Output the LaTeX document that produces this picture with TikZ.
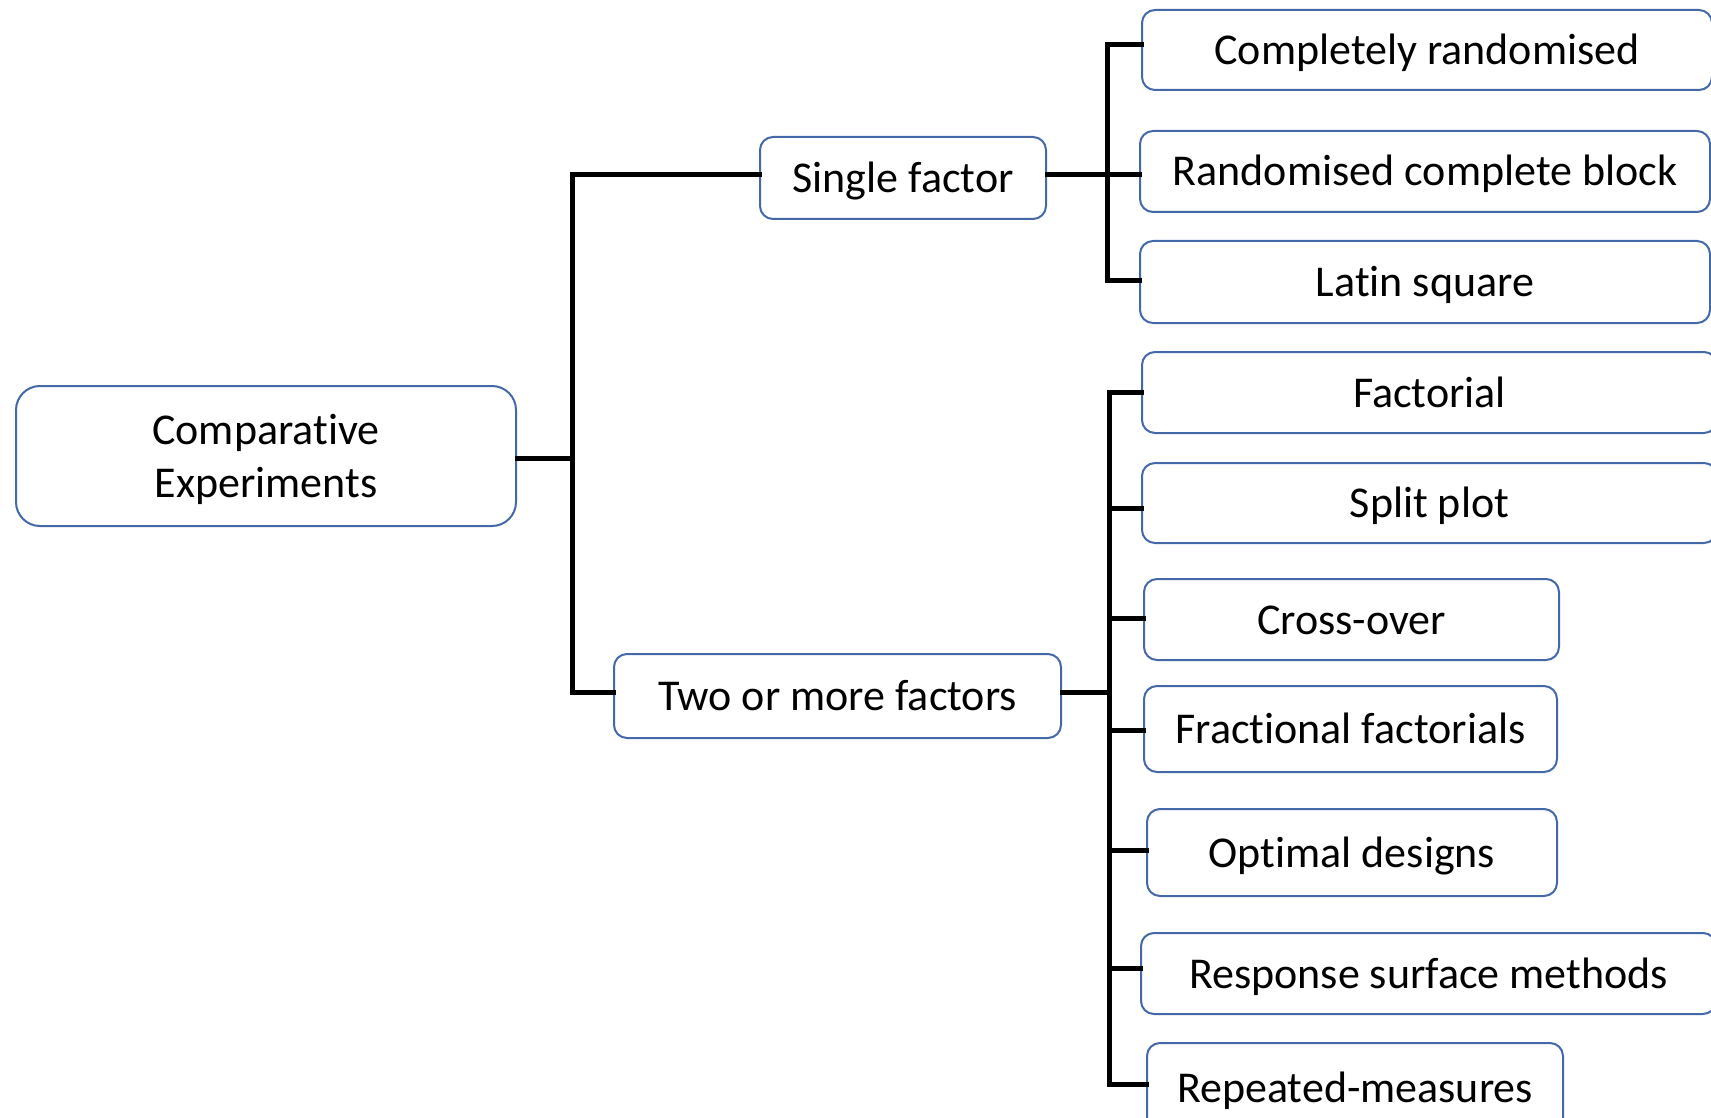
\documentclass[tikz,border=0pt]{standalone}
\usepackage{fontspec}
\setmainfont{Carlito}[Ligatures={NoCommon,NoContextual}, RawFeature={-liga;-clig;-calt}]
\definecolor{boxblue}{RGB}{68,104,168}
\tikzset{
  frame/.style={draw=boxblue, line width=2pt, rounded corners=13pt, fill=white,
    anchor=north west, inner sep=0pt},
  box/.style={frame, align=center, text height=35pt, text depth=6pt,
    font=\fontsize{44}{53}\selectfont},
  caption/.style={align=center, inner sep=0pt, font=\fontsize{44}{53}\selectfont},
  link/.style={line width=5pt, line cap=rect}
}
\begin{document}
\begin{tikzpicture}[x=1pt, y=-1pt]
\useasboundingbox (0,0) rectangle (1711,1118);
\clip (0,0) rectangle (1711,1118);

% root and first-level groups
\node[frame, rounded corners=24pt, minimum width=500pt, minimum height=140pt] (root) at (15,385) {};
\node[caption, yshift=-3pt] (rootlabel) at (root.center) {Comparative\\Experiments};
\node[box, minimum width=286pt, minimum height=82pt] (single) at (759,136) {Single factor};
\node[box, minimum width=447pt, minimum height=84pt] (multi) at (613,653) {Two or more factors};

% single-factor designs
\node[box, minimum width=570pt, minimum height=80pt] (crd) at (1141,9) {Completely randomised};
\node[box, minimum width=570pt, minimum height=81pt] (rcb) at (1139,130) {Randomised complete block};
\node[box, minimum width=570pt, minimum height=82pt] (lsq) at (1139,240) {Latin square};

% designs with two or more factors
\node[box, minimum width=575pt, minimum height=81pt] (fact) at (1141,351) {Factorial};
\node[box, minimum width=575pt, minimum height=80pt] (split) at (1141,462) {Split plot};
\node[box, minimum width=415pt, minimum height=81pt] (cross) at (1143,578) {Cross-over};
\node[box, minimum width=413pt, minimum height=86pt] (frac) at (1143,685) {Fractional factorials};
\node[box, minimum width=410pt, minimum height=87pt] (opt) at (1146,808) {Optimal designs};
\node[box, minimum width=575pt, minimum height=81pt] (rsm) at (1140,932) {Response surface methods};
\node[box, minimum width=416pt, minimum height=90pt] (rep) at (1146,1042) {Repeated-measures};

% trunk from the root to the two groups
\coordinate (t0) at (572,458);
\draw[link] (root.east |- t0) -- (t0);
\draw[link] (single.west |- 0,175) -| (572,692) -- (multi.west |- 0,692);

% single-factor branch
\draw[link] (single.east |- 0,175) -- (1107,175);
\draw[link] (crd.west |- 0,45) -| (1107,280) -- (lsq.west |- 0,280);
\draw[link] (1107,175) -- (rcb.west |- 0,175);

% multi-factor branch
\draw[link] (multi.east |- 0,692) -- (1109,692);
\draw[link] (fact.west |- 0,392) -| (1109,1084) -- (rep.west |- 0,1084);
\draw[link] (1109,508) -- (split.west |- 0,508);
\draw[link] (1109,618) -- (cross.west |- 0,618);
\draw[link] (1109,730) -- (frac.west |- 0,730);
\draw[link] (1109,850) -- (opt.west |- 0,850);
\draw[link] (1109,968) -- (rsm.west |- 0,968);
\end{tikzpicture}
\end{document}
